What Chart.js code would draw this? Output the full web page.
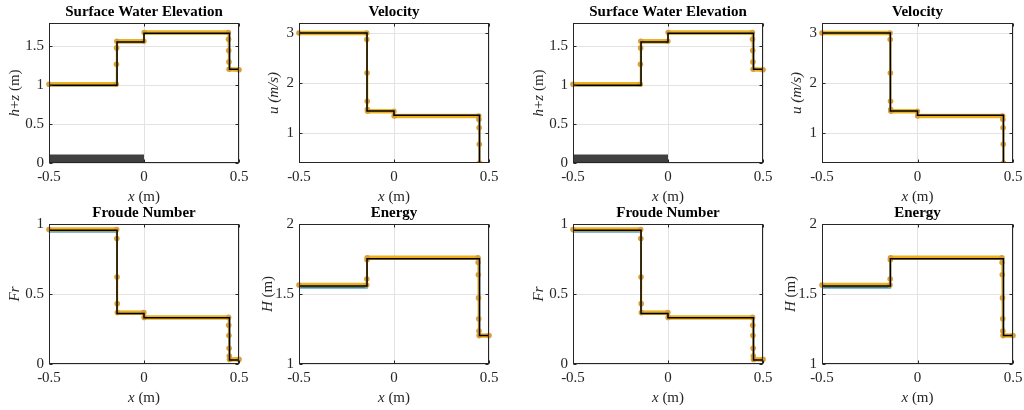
<!DOCTYPE html>
<html>
<head>
<meta charset="utf-8">
<script src="https://cdn.jsdelivr.net/npm/chart.js@4.4.1/dist/chart.umd.min.js"></script>
<style>
  html, body { margin: 0; padding: 0; background: #fff; width: 1024px; height: 410px; overflow: hidden; position: relative; }
  canvas { position: absolute; }
</style>
</head>
<body>
<script>
// --- data ---
// reference (black) step profile and exact solution share these x positions
const xRef = [-0.5, -0.142, -0.142, 0, 0, 0.45, 0.45, 0.5];
const xTicks = [-0.5, 0, 0.5];

// bed step
const xBed = [-0.5, 0];
const bedTop = [0.11, 0.11];

// surface water elevation h+z
const elevRef   = [1.0, 1.0, 1.555, 1.555, 1.667, 1.667, 1.205, 1.205];
const elevExact = [0.993, 0.993, 1.55, 1.55, 1.662, 1.662, 1.2, 1.2];
const xElevNum  = [-0.5, -0.146, -0.145, -0.144, -0.143, -0.001, 0.001, 0.444, 0.445, 0.446, 0.447, 0.448, 0.5];
const elevNum   = [1.012, 1.012, 1.27, 1.48, 1.565, 1.565, 1.678, 1.678, 1.59, 1.445, 1.30, 1.205, 1.198];
const elevTicks = [0, 0.5, 1, 1.5];

// velocity u
const velRef   = [3.0, 3.0, 1.44, 1.44, 1.355, 1.355, 0.1, 0.1];
const velExact = [2.995, 2.995, 1.43, 1.43, 1.345, 1.345, 0.1, 0.1];
const xVelNum  = [-0.5, -0.144, -0.143, -0.142, -0.141, -0.140, -0.139, -0.001, 0.001, 0.446, 0.447, 0.448, 0.449, 0.450, 0.451, 0.5];
const velNum   = [3.0, 3.0, 2.87, 2.2, 1.635, 1.47, 1.435, 1.435, 1.34, 1.34, 1.27, 1.105, 0.775, 0.4, 0.1, 0.1];
const velTicks = [1, 2, 3];

// Froude number
const frRef   = [0.955, 0.955, 0.36, 0.36, 0.33, 0.33, 0.028, 0.028];
const frExact = [0.945, 0.945, 0.355, 0.355, 0.327, 0.327, 0.028, 0.028];
const xFrNum  = [-0.5, -0.144, -0.143, -0.142, -0.141, -0.140, -0.001, 0.001, 0.445, 0.446, 0.447, 0.448, 0.449, 0.450, 0.5];
const frNum   = [0.96, 0.96, 0.896, 0.621, 0.431, 0.367, 0.367, 0.333, 0.333, 0.277, 0.204, 0.112, 0.057, 0.033, 0.033];
const frTicks = [0, 0.5, 1];

// energy H
const enRef   = [1.558, 1.558, 1.751, 1.751, 1.751, 1.751, 1.204, 1.204];
const enExact = [1.545, 1.545, 1.748, 1.748, 1.748, 1.748, 1.2, 1.2];
const xEnNum  = [-0.5, -0.144, -0.143, -0.142, -0.141, 0.442, 0.443, 0.444, 0.445, 0.446, 0.447, 0.448, 0.5];
const enNum   = [1.564, 1.564, 1.607, 1.744, 1.759, 1.759, 1.725, 1.638, 1.472, 1.323, 1.235, 1.203, 1.203];
const enTicks = [1, 1.5, 2];

const panels = [
  { title: 'Surface Water Elevation', ref: elevRef, exact: elevExact, xNum: xElevNum, num: elevNum,
    ticks: elevTicks, min: 0, max: 1.8, bed: true, labelGap: 34,
    yLabel: [['h', true], ['+', false], ['z', true], [' (m)', false]] },
  { title: 'Velocity', ref: velRef, exact: velExact, xNum: xVelNum, num: velNum,
    ticks: velTicks, min: 0.4, max: 3.2, labelGap: 25,
    yLabel: [['u (m/s)', true]] },
  { title: 'Froude Number', ref: frRef, exact: frExact, xNum: xFrNum, num: frNum,
    ticks: frTicks, min: 0, max: 1, labelGap: 34,
    yLabel: [['Fr', true]] },
  { title: 'Energy', ref: enRef, exact: enExact, xNum: xEnNum, num: enNum,
    ticks: enTicks, min: 1, max: 2, labelGap: 31,
    yLabel: [['H', true], [' (m)', false]] }
];
const xLabel = [['x', true], [' (m)', false]];

// layout of the 2x4 grid (plot area corners)
const colLeft = [49, 299, 573, 822];
const colWidth = [190, 190, 190, 191];
const rowTop = [23, 224];
const plotH = 140;
const PAD_L = 48, PAD_R = 16, PAD_T = 22, PAD_B = 45;

const SERIF = "'Liberation Serif', 'Times New Roman', serif";
const INK = '#262626';
const FS = 15;

const pts = (xs, ys) => xs.map((x, i) => ({ x: x, y: ys[i] }));

function drawParts(ctx, parts, cx, cy) {
  let total = 0;
  const widths = parts.map(([t, it]) => {
    ctx.font = (it ? 'italic ' : '') + FS + 'px ' + SERIF;
    const w = ctx.measureText(t).width;
    total += w;
    return w;
  });
  let x = cx - total / 2;
  parts.forEach(([t, it], i) => {
    ctx.font = (it ? 'italic ' : '') + FS + 'px ' + SERIF;
    ctx.fillText(t, x, cy);
    x += widths[i];
  });
}

// box, inward ticks, title and axis labels in matlab style
const frame = {
  id: 'frame',
  afterDatasetsDraw(chart, args, opts) {
    const { ctx, chartArea: a, scales } = chart;
    const L = Math.round(a.left) + 0.5, R = Math.round(a.right) - 0.5;
    const T = Math.round(a.top) + 0.5, B = Math.round(a.bottom) - 0.5;
    ctx.save();
    ctx.strokeStyle = INK;
    ctx.lineWidth = 1;
    ctx.strokeRect(L, T, R - L, B - T);
    ctx.beginPath();
    scales.x.ticks.forEach(t => {
      const px = Math.round(scales.x.getPixelForValue(t.value)) + 0.5;
      ctx.moveTo(px, B); ctx.lineTo(px, B - 3);
      ctx.moveTo(px, T); ctx.lineTo(px, T + 3);
    });
    scales.y.ticks.forEach(t => {
      const py = Math.round(scales.y.getPixelForValue(t.value)) + 0.5;
      ctx.moveTo(L, py); ctx.lineTo(L + 3, py);
      ctx.moveTo(R, py); ctx.lineTo(R - 3, py);
    });
    ctx.stroke();
    ctx.restore();
  },
  afterDraw(chart, args, opts) {
    const { ctx, chartArea: a } = chart;
    const cx = (a.left + a.right) / 2, cy = (a.top + a.bottom) / 2;
    ctx.save();
    ctx.textBaseline = 'middle';
    ctx.textAlign = 'left';
    ctx.fillStyle = '#000';
    ctx.font = 'bold ' + FS + 'px ' + SERIF;
    const tw = ctx.measureText(opts.title).width;
    ctx.fillText(opts.title, cx - tw / 2, a.top - 11);
    ctx.fillStyle = INK;
    drawParts(ctx, xLabel, cx, a.bottom + 34);
    ctx.translate(a.left - opts.labelGap, cy);
    ctx.rotate(-Math.PI / 2);
    drawParts(ctx, opts.yLabel, 0, 0);
    ctx.restore();
  }
};

// flat parts of the numerical profile look thick (dense markers), jumps look thin
const numWidth = c => (Math.abs(c.p0.parsed.y - c.p1.parsed.y) < 0.02 ? 4.5 : 1.8);

function makePanel(p, left, top, w) {
  const cv = document.createElement('canvas');
  const cw = w + PAD_L + PAD_R, ch = plotH + PAD_T + PAD_B;
  cv.width = cw; cv.height = ch;
  cv.style.width = cw + 'px'; cv.style.height = ch + 'px';
  cv.style.left = (left - PAD_L) + 'px'; cv.style.top = (top - PAD_T) + 'px';
  document.body.appendChild(cv);

  const datasets = [];
  if (p.bed) {
    datasets.push({ data: pts(xBed, bedTop), showLine: true, fill: 'origin',
      backgroundColor: '#404040', borderColor: '#404040', borderWidth: 0, pointRadius: 0, order: 4 });
  }
  datasets.push({ data: pts(xRef, p.exact), showLine: true, borderColor: '#0072BD',
    borderWidth: 1.5, pointRadius: 0, order: 3, clip: 0 });
  datasets.push({ data: pts(p.xNum, p.num), showLine: true, borderColor: '#EDB120',
    borderWidth: 4.5, borderJoinStyle: 'round', segment: { borderWidth: numWidth },
    pointRadius: 2.8, pointBackgroundColor: '#D99E35', pointBorderWidth: 0,
    order: 2, clip: { left: 5, right: 5, top: 5, bottom: 0 } });
  datasets.push({ data: pts(xRef, p.ref), showLine: true, borderColor: '#000',
    borderWidth: 1.5, borderJoinStyle: 'miter', pointRadius: 0, order: 1, clip: 0 });

  const tickFont = { family: SERIF, size: FS };
  new Chart(cv, {
    type: 'scatter',
    data: { datasets: datasets },
    options: {
      responsive: false,
      animation: false,
      events: [],
      layout: { padding: { left: 0, right: PAD_R, top: PAD_T, bottom: 0 } },
      scales: {
        x: {
          type: 'linear', min: -0.5, max: 0.5,
          afterBuildTicks: s => { s.ticks = xTicks.map(v => ({ value: v })); },
          afterFit: s => { s.height = PAD_B; },
          grid: { color: '#e3e3e3', drawTicks: false },
          border: { display: false },
          ticks: { font: tickFont, color: INK, padding: 5, maxRotation: 0, autoSkip: false, callback: v => String(v) }
        },
        y: {
          type: 'linear', min: p.min, max: p.max,
          afterBuildTicks: s => { s.ticks = p.ticks.map(v => ({ value: v })); },
          afterFit: s => { s.width = PAD_L; },
          grid: { color: '#e3e3e3', drawTicks: false },
          border: { display: false },
          ticks: { font: tickFont, color: INK, padding: 5, autoSkip: false, callback: v => String(v) }
        }
      },
      plugins: {
        legend: { display: false },
        tooltip: { enabled: false },
        frame: { title: p.title, yLabel: p.yLabel, labelGap: p.labelGap }
      }
    },
    plugins: [frame]
  });
}

colLeft.forEach((left, c) => {
  rowTop.forEach((top, r) => {
    makePanel(panels[r * 2 + (c % 2)], left, top, colWidth[c]);
  });
});
</script>
</body>
</html>
